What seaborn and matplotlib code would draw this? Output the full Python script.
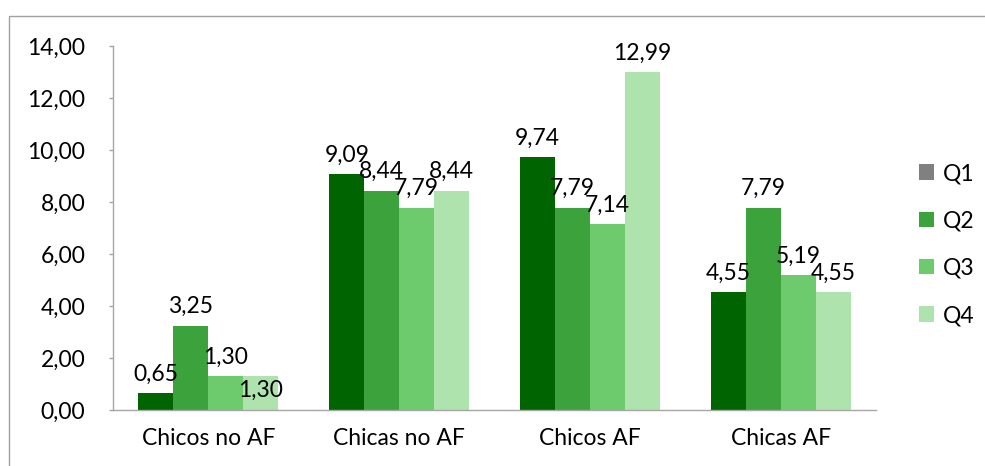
import matplotlib
matplotlib.use("Agg")
import matplotlib.pyplot as plt
from matplotlib.patches import Rectangle, Patch
import seaborn as sns
import pandas as pd

categories = ["Chicos no AF", "Chicas no AF", "Chicos AF", "Chicas AF"]
quartiles = ["Q1", "Q2", "Q3", "Q4"]
q1 = [0.65, 9.09, 9.74, 4.55]
q2 = [3.25, 8.44, 7.79, 7.79]
q3 = [1.30, 7.79, 7.14, 5.19]
q4 = [1.30, 8.44, 12.99, 4.55]

bar_colors = ["#006400", "#3ca33c", "#6dcb6d", "#aee3ae"]
legend_colors = ["#808080", "#3ca33c", "#6dcb6d", "#aee3ae"]

df = pd.DataFrame({
    "grupo": categories * 4,
    "cuartil": [q for q in quartiles for _ in categories],
    "valor": q1 + q2 + q3 + q4,
})

sns.set_style("white")
plt.rcParams["font.family"] = ["Lato", "DejaVu Sans"]
plt.rcParams["text.color"] = "black"
plt.rcParams["xtick.color"] = "black"
plt.rcParams["ytick.color"] = "black"

FS = 16.5

fig = plt.figure(figsize=(9.85, 4.66), dpi=100)
ax = fig.add_axes([0.1147, 0.120, 0.775, 0.781])

sns.barplot(data=df, x="grupo", y="valor", hue="cuartil", palette=bar_colors,
            width=0.733, saturation=1, ax=ax, legend=False, errorbar=None,
            linewidth=0)

def fmt(v):
    return f"{v:.2f}".replace(".", ",")

# Excel nudged one crowded label (Chicos no AF, Q4) down onto its bar
label_dy = {(3, 0): -24}

for qi, container in enumerate(ax.containers):
    for gi, bar in enumerate(container):
        h = bar.get_height()
        ax.annotate(fmt(h), (bar.get_x() + bar.get_width() / 2, h),
                    xytext=(0, 6 + label_dy.get((qi, gi), 0)),
                    textcoords="offset points",
                    ha="center", va="bottom", fontsize=FS)

ax.set_ylim(0, 14)
ax.set_xlim(-0.5, 3.5)
yt = [0, 2, 4, 6, 8, 10, 12, 14]
ax.set_yticks(yt)
ax.set_yticklabels([fmt(v) for v in yt], fontsize=FS)
ax.set_xticks(range(4))
ax.set_xticklabels(categories, fontsize=FS)
ax.set_xlabel("")
ax.set_ylabel("")

# category boundary ticks on x axis
ax.set_xticks([-0.5, 0.5, 1.5, 2.5, 3.5], minor=True)
ax.tick_params(axis="x", which="major", length=0, pad=13)
ax.tick_params(axis="x", which="minor", length=6, color="#a6a6a6", width=1)
ax.tick_params(axis="y", length=3, color="#a6a6a6", width=1, left=True, pad=17)

for side in ["top", "right"]:
    ax.spines[side].set_visible(False)
for side in ["left", "bottom"]:
    ax.spines[side].set_color("#a6a6a6")
    ax.spines[side].set_linewidth(1)

handles = [Patch(facecolor=c, edgecolor="none") for c in legend_colors]
fig.legend(handles, quartiles, loc="center left", bbox_to_anchor=(0.933, 0.475),
           frameon=False, fontsize=FS, handlelength=0.65, handleheight=0.65,
           labelspacing=1.15, handletextpad=0.4, borderpad=0, borderaxespad=0)

fig.patches.append(Rectangle((9 / 985, -0.1), 1.2, 1.1 - 16 / 466,
                             transform=fig.transFigure, fill=False,
                             edgecolor="#a0a0a0", linewidth=1))

fig.savefig("out.png", dpi=100)
